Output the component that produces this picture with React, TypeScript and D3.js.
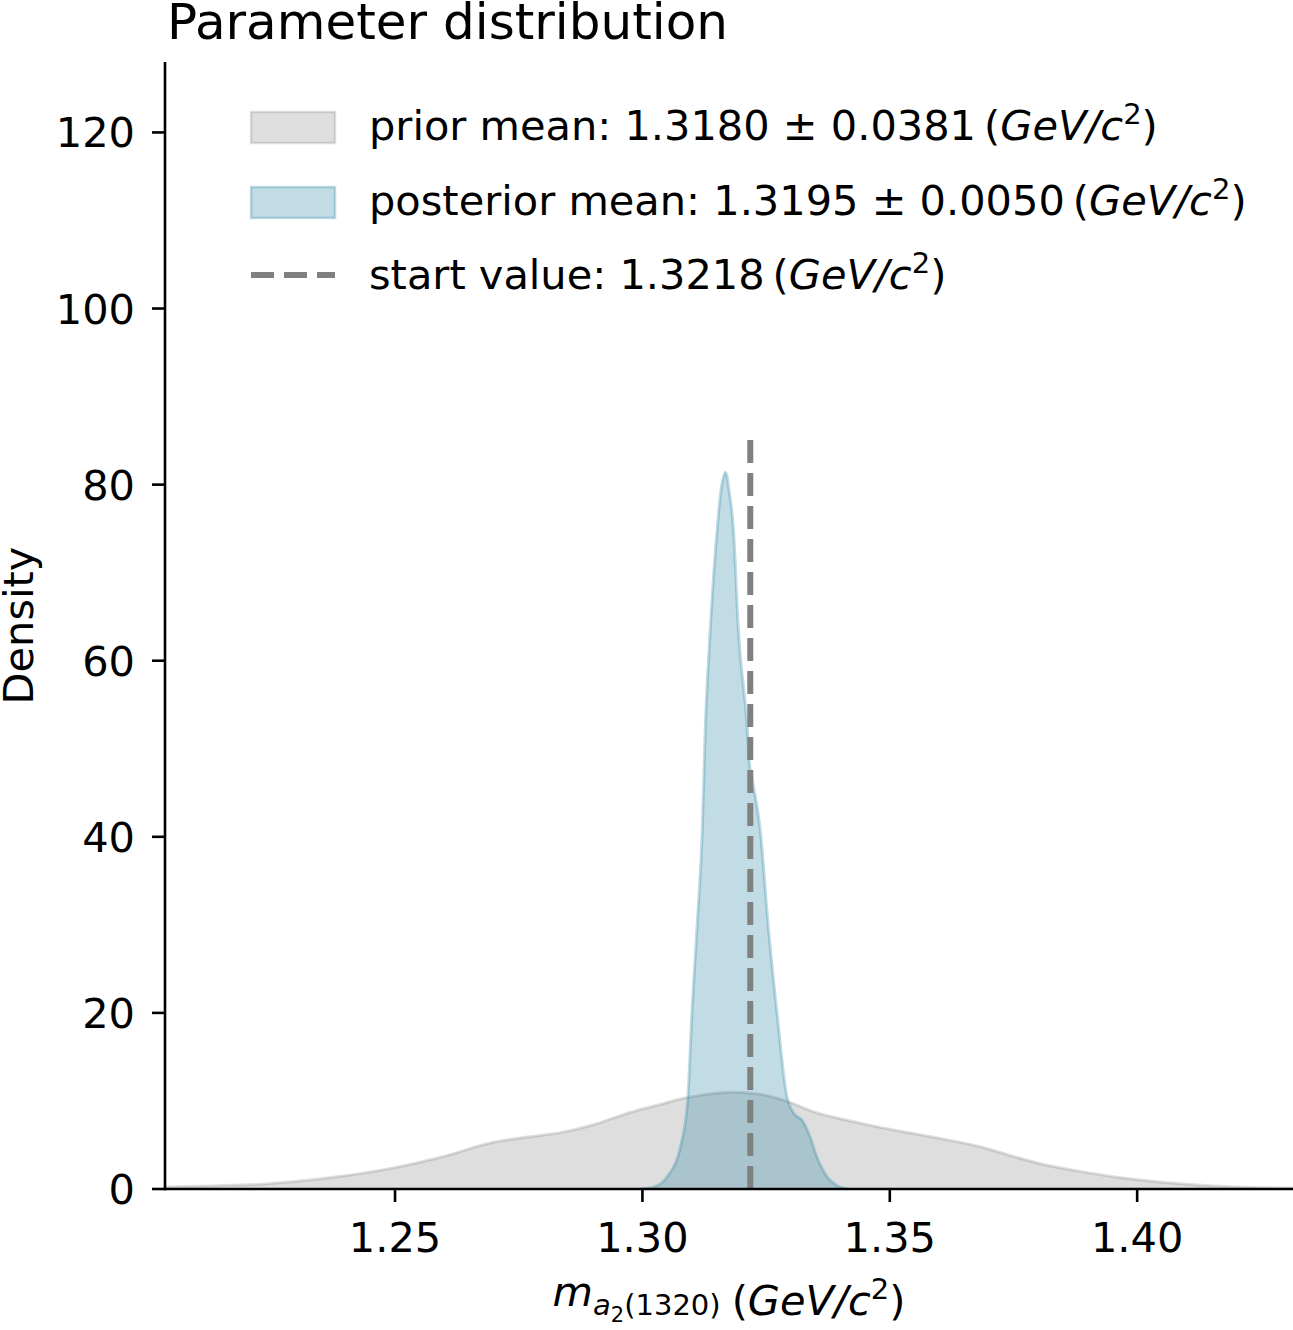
import React from 'react';
import * as d3 from 'd3';

// prior density (KDE)
const priorX = [1.2035, 1.213, 1.223, 1.2364, 1.2497, 1.2598, 1.2699, 1.2768, 1.2834, 1.2901, 1.297, 1.3036, 1.3083, 1.3135, 1.3184, 1.3235, 1.3285, 1.335, 1.3414, 1.348, 1.3547, 1.3615, 1.3683, 1.375, 1.3818, 1.3885, 1.3952, 1.402, 1.4087, 1.4155, 1.4222, 1.4315];
const priorDensity = [0.22, 0.35, 0.55, 1.25, 2.4, 3.7, 5.3, 5.9, 6.4, 7.3, 8.6, 9.6, 10.3, 10.8, 11.0, 10.8, 10.1, 8.7, 7.8, 7.0, 6.3, 5.6, 4.8, 3.7, 2.7, 2.0, 1.4, 0.95, 0.6, 0.35, 0.2, 0.1];

// posterior density
const postX = [1.2996, 1.3022, 1.305, 1.3077, 1.3092, 1.31, 1.311, 1.3121, 1.3127, 1.3137, 1.3151, 1.3158, 1.3168, 1.3176, 1.3184, 1.3194, 1.3212, 1.3216, 1.3222, 1.3238, 1.3255, 1.3272, 1.3292, 1.3306, 1.3323, 1.3339, 1.3353, 1.3373, 1.3393, 1.3414];
const postDensity = [0, 0.2, 1.4, 4.8, 10.5, 20, 29.4, 40.8, 52.2, 63.5, 74.9, 79, 81.4, 79, 74.9, 63.5, 52.2, 48.5, 46.5, 40.8, 29.4, 20, 10.5, 8.6, 7.8, 5.9, 3.6, 1.4, 0.4, 0];

const startValue = 1.3218;
const startLineTop = 85.5;

const xTicks = [1.25, 1.3, 1.35, 1.4];
const yTicks = [0, 20, 40, 60, 80, 100, 120];

const legendLabels = [
  'prior mean: 1.3180 \u00b1 0.0381',
  'posterior mean: 1.3195 \u00b1 0.0050',
  'start value: 1.3218',
];

const W = 1293;
const H = 1330;
const FONT = '"DejaVu Sans", sans-serif';
const FS = 41.5;

const priorColor = 'rgba(128,128,128,0.26)';
const postColor = 'rgba(28,124,159,0.27)';
const dashColor = '#808080';

const Unit: React.FC<{ gap?: number }> = ({ gap = 8 }) => (
  <>
    <tspan dx={gap}>(</tspan>
    <tspan fontStyle="italic">GeV/c</tspan>
    <tspan fontSize={29} dy={-16}>2</tspan>
    <tspan dy={16}>)</tspan>
  </>
);

const App: React.FC = () => {
  const margin = { left: 165, right: 0, top: 62, bottom: 141 };
  const x = d3.scaleLinear().domain([1.2035, 1.4315]).range([margin.left, W - margin.right]);
  const y = d3.scaleLinear().domain([0, 128]).range([H - margin.bottom, margin.top]);

  const area = d3.area<[number, number]>()
    .x(d => x(d[0]))
    .y0(y(0))
    .y1(d => y(d[1]))
    .curve(d3.curveMonotoneX);
  const line = d3.line<[number, number]>()
    .x(d => x(d[0]))
    .y(d => y(d[1]))
    .curve(d3.curveMonotoneX);

  const prior = priorX.map((v, i) => [v, priorDensity[i]] as [number, number]);
  const post = postX.map((v, i) => [v, postDensity[i]] as [number, number]);

  const y0 = y(0);

  return (
    <svg width={W} height={H} style={{ position: 'absolute', left: 0, top: 0, background: '#fff' }} fontFamily={FONT}>
      {/* densities */}
      <path d={area(prior)!} fill={priorColor} />
      <path d={line(prior)!} fill="none" stroke={priorColor} strokeWidth={3} />
      <path d={area(post)!} fill={postColor} />
      <path d={line(post)!} fill="none" stroke={postColor} strokeWidth={3} />

      {/* start value */}
      <line x1={x(startValue)} x2={x(startValue)} y1={y0} y2={y(startLineTop)}
        stroke={dashColor} strokeWidth={6} strokeDasharray="23 10" />

      {/* axes */}
      <line x1={margin.left} x2={W} y1={y0} y2={y0} stroke="#000" strokeWidth={2.6} />
      <line x1={margin.left} x2={margin.left} y1={y0 + 1.3} y2={margin.top} stroke="#000" strokeWidth={2.6} />
      {xTicks.map(t => (
        <g key={t}>
          <line x1={x(t)} x2={x(t)} y1={y0} y2={y0 + 13} stroke="#000" strokeWidth={2.6} />
          <text x={x(t)} y={y0 + 63} textAnchor="middle" fontSize={FS}>{t.toFixed(2)}</text>
        </g>
      ))}
      {yTicks.map(t => (
        <g key={t}>
          <line x1={margin.left - 13} x2={margin.left} y1={y(t)} y2={y(t)} stroke="#000" strokeWidth={2.6} />
          <text x={margin.left - 30} y={y(t) + 15} textAnchor="end" fontSize={FS}>{t}</text>
        </g>
      ))}

      {/* labels */}
      <text x={167} y={39} fontSize={50}>Parameter distribution</text>
      <text transform={`translate(33,${(y0 + margin.top) / 2}) rotate(-90)`} textAnchor="middle" fontSize={FS}>Density</text>
      <text x={(margin.left + W) / 2} y={1306} textAnchor="middle" fontSize={FS}>
        <tspan fontStyle="italic">m</tspan>
        <tspan fontStyle="italic" fontSize={29} dy={9}>a</tspan>
        <tspan fontSize={21} dy={7}>2</tspan>
        <tspan fontSize={29} dy={-7}>(1320)</tspan>
        <tspan dy={-9}></tspan>
        <Unit gap={11} />
      </text>

      {/* legend */}
      <rect x={251} y={112} width={84} height={31} fill={priorColor} stroke={priorColor} strokeWidth={2.5} />
      <rect x={251} y={187} width={84} height={31} fill={postColor} stroke={postColor} strokeWidth={2.5} />
      <line x1={251} x2={335} y1={275} y2={275} stroke={dashColor} strokeWidth={6} strokeDasharray="23 10" />
      {legendLabels.map((l, i) => (
        <text key={l} x={369} y={140 + i * 74.5} fontSize={FS}>
          {l}
          <Unit />
        </text>
      ))}
    </svg>
  );
};

export default App;
